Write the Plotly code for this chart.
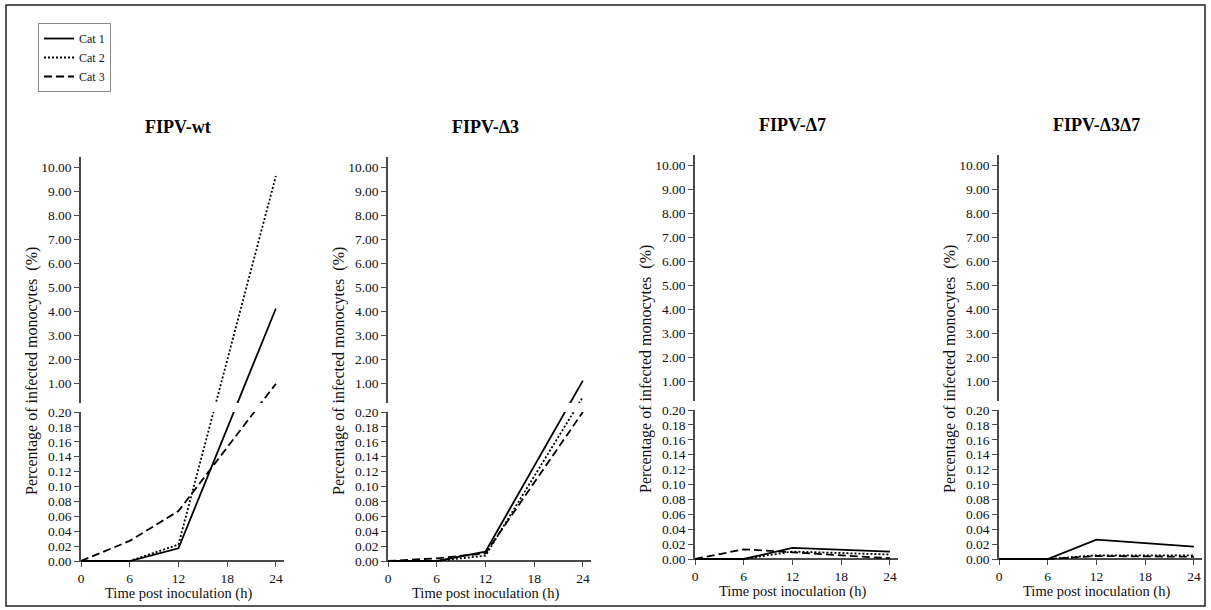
import plotly.graph_objects as go

# ---------------- data ----------------
hours = [0, 6, 12, 24]
panel_titles = ["FIPV-wt", "FIPV-Δ3", "FIPV-Δ7", "FIPV-Δ3Δ7"]
categories = ["Cat 1", "Cat 2", "Cat 3"]

wt_cat1 = [0.0, 0.0, 0.017, 4.13]
wt_cat2 = [0.0, 0.0, 0.022, 9.64]
wt_cat3 = [0.0, 0.027, 0.067, 1.00]

d3_cat1 = [0.0, 0.0, 0.0125, 1.13]
d3_cat2 = [0.0, 0.0, 0.0072, 0.45]
d3_cat3 = [0.0, 0.0036, 0.0103, 0.20]

d7_cat1 = [0.0, 0.0, 0.015, 0.010]
d7_cat2 = [0.0, 0.0, 0.010, 0.006]
d7_cat3 = [0.0, 0.013, 0.009, 0.001]

d37_cat1 = [0.0, 0.0, 0.026, 0.0166]
d37_cat2 = [0.0, 0.0, 0.005, 0.005]
d37_cat3 = [0.0, 0.0, 0.004, 0.003]

panel_series = [
    [wt_cat1, wt_cat2, wt_cat3],
    [d3_cat1, d3_cat2, d3_cat3],
    [d7_cat1, d7_cat2, d7_cat3],
    [d37_cat1, d37_cat2, d37_cat3],
]

low_ticks = [0.00, 0.02, 0.04, 0.06, 0.08, 0.10, 0.12, 0.14, 0.16, 0.18, 0.20]
high_ticks = [1.00, 2.00, 3.00, 4.00, 5.00, 6.00, 7.00, 8.00, 9.00, 10.00]
x_ticks = [0, 6, 12, 18, 24]

y_label = "Percentage of infected monocytes  (%)"
x_label = "Time post inoculation (h)"

# ---------------- broken-axis scale (display units = pixels) ----------------
LOW_MAX = 0.20
LOW_PX = 149.0
GAP_PX = 9.0
HIGH_MIN = 0.20
HIGH_PX_PER_UNIT = 24.05
HIGH_PX = 246.0


def disp(v):
    if v <= LOW_MAX:
        return v / LOW_MAX * LOW_PX
    return LOW_PX + GAP_PX + (v - HIGH_MIN) * HIGH_PX_PER_UNIT


# ---------------- layout geometry ----------------
W, H = 1211, 610
M_T, M_B = 155, 47
P_BOT = H - M_B          # 563
PH = H - M_T - M_B       # plot area height


def py(p):
    return (P_BOT - p) / PH


x_starts = [81, 388, 695, 999]
x_width = 203
dy = [0, 0, 2, 2]
base_zero = 561  # pixel row of value 0 for panels 1/2

FONT = "Liberation Serif, Times New Roman, serif"
AX_COL = "#4a4a4a"
dashes = ["solid", "2px,2px", "8px,4px"]

fig = go.Figure()
layout = dict(
    width=W, height=H,
    margin=dict(l=0, r=0, t=M_T, b=M_B),
    paper_bgcolor="white", plot_bgcolor="rgba(0,0,0,0)",
    font=dict(family=FONT, color="#111"),
    showlegend=True,
    legend=dict(
        x=38 / W, y=py(23), xanchor="left", yanchor="top",
        bordercolor="#888", borderwidth=1, bgcolor="white",
        font=dict(family=FONT, size=12, color="#111"),
        traceorder="grouped", tracegroupgap=0,
    ),
)
annotations = []

for i in range(4):
    xi = i + 1
    ylo = 2 * i + 1
    yhi = 2 * i + 2
    zero_px = base_zero - dy[i]
    x0 = x_starts[i]
    xdom = [x0 / W, (x0 + x_width) / W]

    common = dict(
        showline=True, linecolor=AX_COL, linewidth=1.5,
        ticks="outside", ticklen=5, tickwidth=1.3, tickcolor=AX_COL,
        showgrid=False, zeroline=False, layer="below traces",
        tickfont=dict(family=FONT, size=13.5, color="#111"),
        automargin=False, fixedrange=True,
    )

    layout[f"xaxis{xi}"] = dict(
        domain=xdom, range=[0, 25], anchor="free", position=py(zero_px),
        tickvals=x_ticks, ticktext=[str(t) for t in x_ticks], **common,
    )
    layout[f"yaxis{ylo}"] = dict(
        domain=[py(zero_px + 1), py(zero_px - LOW_PX)],
        range=[-1, LOW_PX], anchor=f"x{xi}",
        tickvals=[disp(t) for t in low_ticks],
        ticktext=[f"{t:.2f}" for t in low_ticks], **common,
    )
    hi_bot = zero_px - LOW_PX - GAP_PX
    layout[f"yaxis{yhi}"] = dict(
        domain=[py(hi_bot), py(hi_bot - HIGH_PX)],
        range=[LOW_PX + GAP_PX, LOW_PX + GAP_PX + HIGH_PX], anchor=f"x{xi}",
        tickvals=[disp(t) for t in high_ticks],
        ticktext=[f"{t:.2f}" for t in high_ticks], **common,
    )

    for c, (name, vals) in enumerate(zip(categories, panel_series[i])):
        dv = [disp(v) for v in vals]
        for k, ya in enumerate([ylo, yhi]):
            fig.add_trace(go.Scatter(
                x=hours, y=dv, mode="lines", name=name,
                legendgroup=name, showlegend=(i == 0 and k == 0),
                line=dict(color="#000", width=1.8, dash=dashes[c]),
                xaxis=f"x{xi}", yaxis=f"y{ya}", hoverinfo="skip",
            ))

    # panel title
    annotations.append(dict(
        text=f"<b>{panel_titles[i]}</b>", xref=f"x{xi}", yref="paper",
        x=12, y=py(127 - dy[i]), showarrow=False, xanchor="center", yanchor="middle",
        font=dict(family=FONT, size=18, color="#000"),
    ))
    # y label
    annotations.append(dict(
        text=y_label, xref="paper", yref="paper",
        x=(x0 - 49) / W, y=py(371 - dy[i]), showarrow=False, textangle=-90,
        xanchor="center", yanchor="middle",
        font=dict(family=FONT, size=16, color="#111"),
    ))
    # x label
    annotations.append(dict(
        text=x_label, xref=f"x{xi}", yref="paper",
        x=12, y=py(593 - dy[i]), showarrow=False, xanchor="center", yanchor="middle",
        font=dict(family=FONT, size=14.5, color="#111"),
    ))

layout["annotations"] = annotations
layout["shapes"] = [dict(
    type="rect", xref="paper", yref="paper",
    x0=6 / W, x1=1205 / W, y0=py(606), y1=py(5),
    line=dict(color="#222", width=1.5), fillcolor="rgba(0,0,0,0)",
)]
fig.update_layout(**layout)
fig.write_html("out.html")
